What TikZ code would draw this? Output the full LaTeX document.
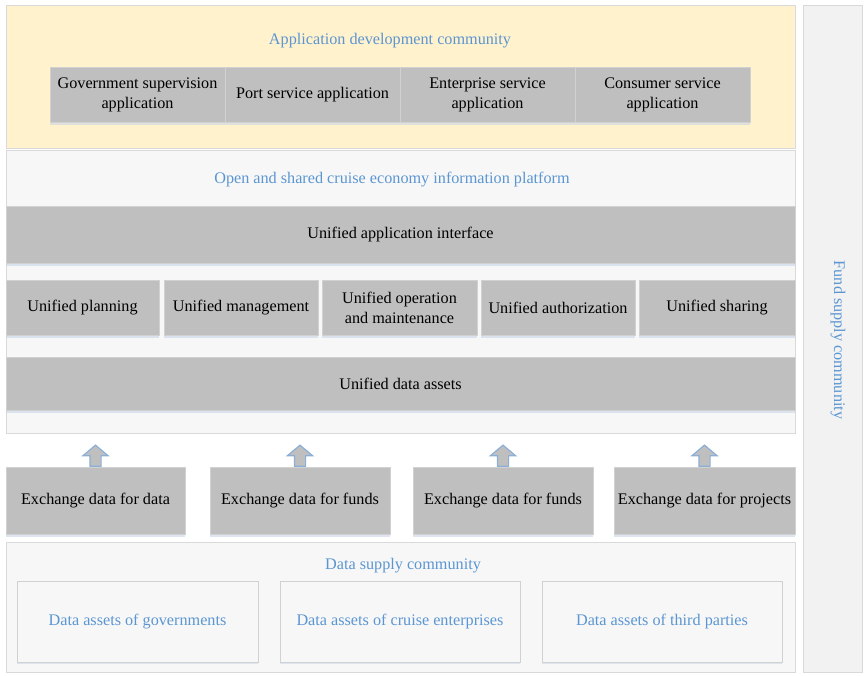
\documentclass[tikz,border=0pt]{standalone}
\usepackage{fontspec}
\setmainfont{Liberation Serif}
\usepackage{tikz}
\usetikzlibrary{positioning}
\usetikzlibrary{shadows}
\usetikzlibrary{shapes.arrows}
\definecolor{labelblue}{RGB}{91,150,210}
\definecolor{edgeblue}{RGB}{140,175,215}
\definecolor{appyellow}{RGB}{255,242,204}
\definecolor{panelgray}{RGB}{247,247,247}
\definecolor{shadowblue}{RGB}{200,212,232}
\tikzstyle{panel} = [draw=black!15, line width=0.8pt, fill=panelgray]
\tikzstyle{heading} = [text=labelblue, inner sep=1pt]
\tikzstyle{cell} = [rectangle, fill=black!25, draw=black!18, line width=0.5pt, inner sep=2pt, align=center, drop shadow={shadow xshift=0pt, shadow yshift=-3pt, fill=shadowblue, opacity=0.6}]
\tikzstyle{assetbox} = [rectangle, fill=panelgray, draw=black!18, line width=0.8pt, text=labelblue, align=center, minimum width=240pt, minimum height=81pt, drop shadow={shadow xshift=0pt, shadow yshift=-2pt, fill=shadowblue, opacity=0.5}]
\tikzstyle{upblock} = [single arrow, shape border rotate=90, fill=black!25, draw=edgeblue, line width=1.2pt, inner sep=5pt, minimum height=21pt, single arrow head extend=7pt, single arrow head indent=0pt, single arrow tip angle=100]

\begin{document}
\begin{tikzpicture}[x=1pt, y=-1pt, font=\fontsize{16.2}{20}\selectfont]

  \useasboundingbox (0,0) rectangle (867,676);

  % Application layer
  \begin{scope}
    \draw[panel, fill=appyellow] (6,5) rectangle (795,148);
    \node[heading] (apptitle) at (390,41) {Application development community};

    \node[cell, minimum width=175pt, minimum height=55pt] (gov) at (137.5,94.5) {Government supervision\\application};
    \node[cell, minimum width=175pt, minimum height=55pt] (port) at (312.5,94.5) {Port service application};
    \node[cell, minimum width=175pt, minimum height=55pt] (ent) at (487.5,94.5) {Enterprise service\\application};
    \node[cell, minimum width=175pt, minimum height=55pt] (con) at (662.5,94.5) {Consumer service\\application};
  \end{scope}

  % Platform
  \begin{scope}
    \draw[panel] (6,150) rectangle (795,433);
    \node[heading] (plattitle) at (392,180) {Open and shared cruise economy information platform};

    \node[cell, minimum width=789pt, minimum height=57pt] (api) at (400.5,234.5) {Unified application interface};

    \node[cell, minimum width=153pt, minimum height=55pt] (plan) at (82.5,307.5) {Unified planning};
    \node[cell, minimum width=154pt, minimum height=55pt] (manage) at (241,307.5) {Unified management};
    \node[cell, minimum width=155pt, minimum height=55pt] (ops) at (399.5,307.5) {Unified operation\\and maintenance};
    \node[cell, minimum width=154pt, minimum height=55pt] (auth) at (558,307.5) {Unified authorization};
    \node[cell, minimum width=156pt, minimum height=55pt] (share) at (717,307.5) {Unified sharing};

    \node[cell, minimum width=789pt, minimum height=53pt] (assets) at (400.5,383.5) {Unified data assets};
  \end{scope}

  % Exchange
  \node[cell, minimum width=179pt, minimum height=67pt] (ex1) at (95.5,500.5) {Exchange data for data};
  \node[cell, minimum width=180pt, minimum height=67pt] (ex2) at (300,500.5) {Exchange data for funds};
  \node[cell, minimum width=180pt, minimum height=67pt] (ex3) at (503,500.5) {Exchange data for funds};
  \node[cell, minimum width=181pt, minimum height=67pt] (ex4) at (704.5,500.5) {Exchange data for projects};

  \foreach \i in {1,...,4} {
    \node[upblock, anchor=tail] (up\i) at (ex\i.north) {};
  }

  % Data supply
  \begin{scope}
    \draw[panel] (6,542) rectangle (795,672);
    \node[heading] (supplytitle) at (403,566) {Data supply community};

    \node[assetbox, minimum width=241pt] (govdata) at (137.5,621.5) {Data assets of governments};
    \node[assetbox] (cruisedata) at (400,621.5) {Data assets of cruise enterprises};
    \node[assetbox] (thirddata) at (662,621.5) {Data assets of third parties};
  \end{scope}

  % Fund supply
  \draw[panel, fill=black!5] (803,5) rectangle (862,672);
  \node[heading, rotate=-90] (fundtitle) at (838,340) {Fund supply community};

\end{tikzpicture}
\end{document}
